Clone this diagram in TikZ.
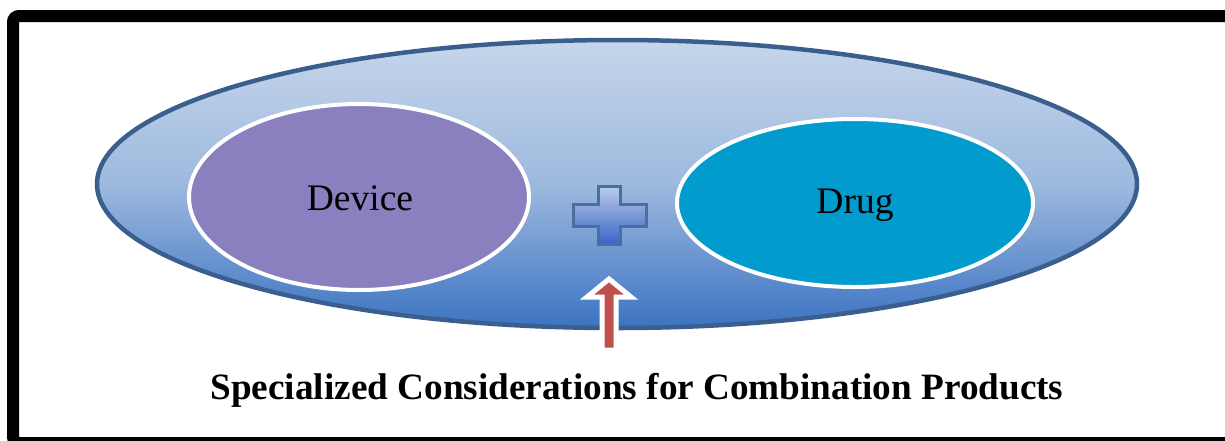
\documentclass[tikz,border=0pt]{standalone}
\usepackage{fontspec}
\setmainfont{Liberation Serif}
\usetikzlibrary{shapes.geometric}
\definecolor{outerline}{HTML}{3A5F8E}
\definecolor{outertop}{HTML}{C6D6EB}
\definecolor{outermid}{HTML}{9DB9DE}
\definecolor{outerbot}{HTML}{3B73C2}
\definecolor{devfill}{HTML}{8A80BF}
\definecolor{drugfill}{HTML}{019BCD}
\definecolor{plustop}{HTML}{BACDE7}
\definecolor{plusbot}{HTML}{3A64C9}
\definecolor{plusline}{HTML}{4A6E9E}
\definecolor{arrowred}{HTML}{C0504D}
\tikzset{
  inner/.style={ellipse, draw=white, line width=4pt, inner sep=0pt},
  label/.style={font=\fontsize{37.5}{42}\selectfont, text=black},
}
\begin{document}
\begin{tikzpicture}[x=1pt,y=-1pt]
\useasboundingbox (0,0) rectangle (1225,440);
\begin{scope}
\clip (0,0) rectangle (1225,440);
\draw[line width=12pt, rounded corners=6pt] (13,16) rectangle (1250,443);
\end{scope}
\node[ellipse, draw=outerline, line width=4.5pt, inner sep=0pt,
  top color=outertop, bottom color=outerbot, middle color=outermid,
  minimum width=1040pt, minimum height=288pt] (outer) at (617,184) {};
\node[inner, fill=devfill, minimum width=340pt, minimum height=186pt] (device) at (359,197) {};
\node[label] (devicet) at (360,198) {Device};
\node[inner, fill=drugfill, minimum width=356pt, minimum height=168pt] (drug) at (855,203) {};
\node[label] (drugt) at (855,205) {Drug};
% plus sign
\shadedraw[top color=plustop, bottom color=plusbot, draw=plusline, line width=3pt]
  (598,186) -- (620,186) -- (620,204) -- (646,204) -- (646,226) -- (620,226)
  -- (620,244) -- (598,244) -- (598,226) -- (573,226) -- (573,204) -- (598,204) -- cycle;
% arrow
\filldraw[fill=arrowred, draw=white, line width=5pt, line join=miter]
  (609,279) -- (631,297) -- (616,297) -- (616,350) -- (602,350) -- (602,297) -- (587,297) -- cycle;
\node[font=\fontsize{37.2}{42}\selectfont\bfseries] (title) at (637,390)
  {Specialized Considerations for Combination Products};
\end{tikzpicture}
\end{document}
